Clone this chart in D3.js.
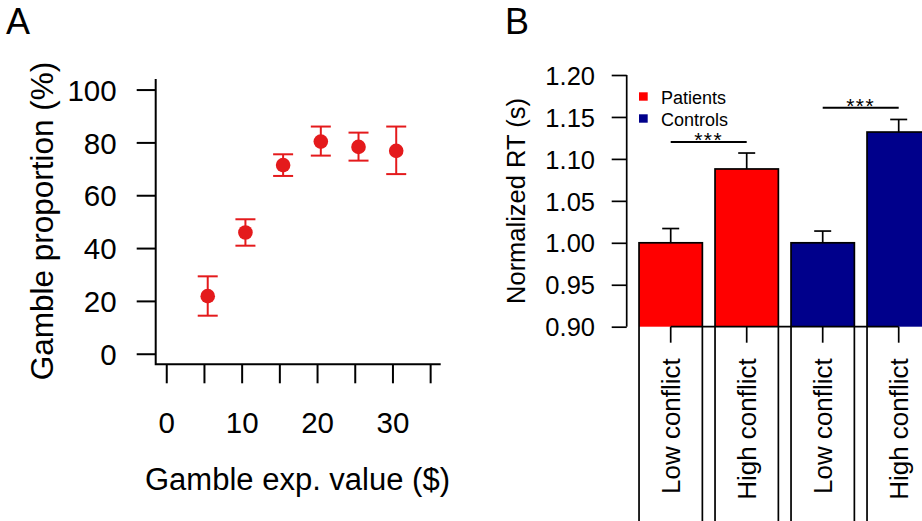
<!DOCTYPE html>
<html>
<head>
<meta charset="utf-8">
<script src="https://cdn.jsdelivr.net/npm/d3@7"></script>
<style>
  body { margin: 0; background: #fff; }
  svg { display: block; font-family: "Liberation Sans", Arial, sans-serif; }
</style>
</head>
<body>
<div id="chart"></div>
<script>
// Panel A: gamble proportion vs expected value
let evValues = [5.5, 10.5, 15.5, 20.5, 25.5, 30.5]
let gambleMean = [21.8, 45.9, 71.4, 80.3, 78.3, 76.8]
let gambleLo = [14.4, 40.9, 67.3, 75.0, 73.1, 68.0]
let gambleHi = [29.3, 50.9, 75.5, 86.0, 83.7, 86.0]
let evTicks = [0, 5, 10, 15, 20, 25, 30, 35]
let evTickLabels = ["0", "", "10", "", "20", "", "30", ""]
let propTicks = [0, 20, 40, 60, 80, 100]

// Panel B: normalized RT bars
let conditions = ["Low conflict", "High conflict", "Low conflict", "High conflict"]
let groups = ["Patients", "Patients", "Controls", "Controls"]
let rtMean = [1.000, 1.088, 1.000, 1.132]
let rtUpper = [1.017, 1.107, 1.014, 1.147]
let rtTicks = [0.90, 0.95, 1.00, 1.05, 1.10, 1.15, 1.20]
let sigPairs = [[0, 1], [2, 3]]
let sigLevel = [1.120, 1.161]
let sigLabel = ["***", "***"]
let legendGroups = ["Patients", "Controls"]

let width = 922,
  height = 521

let svg = d3.select("#chart").append("svg")
  .attr("width", width)
  .attr("height", height)

svg.append("rect").attr("width", width).attr("height", height).attr("fill", "#fff")

// ---------- Panel A ----------
let ptRed = "#e41a1c"

let xA = d3.scaleLinear().domain([-1.4, 36.4]).range([155.7, 440.7])
let yA = d3.scaleLinear().domain([-4, 104]).range([364.3, 79])

let gA = svg.append("g")

// L-shaped box
gA.append("path")
  .attr("d", `M${xA.range()[0]},${yA.range()[1]}V${yA.range()[0]}H${xA.range()[1]}`)
  .attr("fill", "none").attr("stroke", "#000").attr("stroke-width", 2)

let yAxisA = gA.append("g")
  .attr("transform", `translate(${xA.range()[0]},0)`)
  .call(d3.axisLeft(yA).tickValues(propTicks).tickSize(19).tickPadding(20))
yAxisA.select(".domain").remove()
yAxisA.selectAll(".tick line").attr("stroke-width", 2)
yAxisA.selectAll(".tick text").attr("font-size", 29.5).attr("dy", "0.36em")
  .attr("font-family", "Liberation Sans, Arial, sans-serif")

let xAxisA = gA.append("g")
  .attr("transform", `translate(0,${yA.range()[0]})`)
  .call(d3.axisBottom(xA).tickValues(evTicks).tickSize(19).tickPadding(29)
    .tickFormat((d, i) => evTickLabels[i]))
xAxisA.select(".domain").remove()
xAxisA.selectAll(".tick line").attr("stroke-width", 2)
xAxisA.selectAll(".tick text").attr("font-size", 29.5)
  .attr("font-family", "Liberation Sans, Arial, sans-serif")

// error bars
let errA = gA.selectAll(".errA").data(evValues).enter().append("g")
  .attr("stroke", ptRed).attr("stroke-width", 2)
errA.append("line")
  .attr("x1", d => xA(d)).attr("x2", d => xA(d))
  .attr("y1", (d, i) => yA(gambleLo[i])).attr("y2", (d, i) => yA(gambleHi[i]))
errA.append("line")
  .attr("x1", d => xA(d) - 10).attr("x2", d => xA(d) + 10)
  .attr("y1", (d, i) => yA(gambleHi[i])).attr("y2", (d, i) => yA(gambleHi[i]))
errA.append("line")
  .attr("x1", d => xA(d) - 10).attr("x2", d => xA(d) + 10)
  .attr("y1", (d, i) => yA(gambleLo[i])).attr("y2", (d, i) => yA(gambleLo[i]))

gA.selectAll(".ptA").data(evValues).enter().append("circle")
  .attr("cx", d => xA(d))
  .attr("cy", (d, i) => yA(gambleMean[i]))
  .attr("r", 7.3)
  .attr("fill", ptRed)

gA.append("text")
  .attr("transform", "translate(52.5,221) rotate(-90)")
  .attr("text-anchor", "middle")
  .attr("font-size", 31.5)
  .text("Gamble proportion (%)")

gA.append("text")
  .attr("x", 297.5).attr("y", 490)
  .attr("text-anchor", "middle")
  .attr("font-size", 31)
  .text("Gamble exp. value ($)")

svg.append("text")
  .attr("x", 6).attr("y", 33.5)
  .attr("font-size", 36)
  .text("A")

svg.append("text")
  .attr("x", 505).attr("y", 33.5)
  .attr("font-size", 36)
  .text("B")

// ---------- Panel B ----------
let color = d3.scaleOrdinal().domain(legendGroups).range(["#ff0000", "#00008b"])

let xB = d3.scaleBand().domain(d3.range(conditions.length))
  .range([632.7, 936.7]).paddingInner(1 / 6).paddingOuter(1 / 12)
let yB = d3.scaleLinear().domain([0.9, 1.2]).range([326.7, 75])

let gB = svg.append("g")

// bar fills (only inside plot region)
gB.selectAll(".barFill").data(rtMean).enter().append("rect")
  .attr("x", (d, i) => xB(i))
  .attr("y", d => yB(d))
  .attr("width", xB.bandwidth())
  .attr("height", d => yB(0.9) - yB(d))
  .attr("fill", (d, i) => color(groups[i]))

// bar outlines continue below the axis
gB.selectAll(".barLine").data(rtMean).enter().append("rect")
  .attr("x", (d, i) => xB(i))
  .attr("y", d => yB(d))
  .attr("width", xB.bandwidth())
  .attr("height", d => height + 40 - yB(d))
  .attr("fill", "none")
  .attr("stroke", "#000").attr("stroke-width", 1.7)

// error bars (upper only)
let errB = gB.selectAll(".errB").data(rtMean).enter().append("g")
  .attr("stroke", "#000").attr("stroke-width", 1.7)
errB.append("line")
  .attr("x1", (d, i) => xB(i) + xB.bandwidth() / 2).attr("x2", (d, i) => xB(i) + xB.bandwidth() / 2)
  .attr("y1", d => yB(d)).attr("y2", (d, i) => yB(rtUpper[i]))
errB.append("line")
  .attr("x1", (d, i) => xB(i) + xB.bandwidth() / 2 - 8.5).attr("x2", (d, i) => xB(i) + xB.bandwidth() / 2 + 8.5)
  .attr("y1", (d, i) => yB(rtUpper[i])).attr("y2", (d, i) => yB(rtUpper[i]))

let yAxisB = gB.append("g")
  .attr("transform", "translate(626.7,0)")
  .call(d3.axisLeft(yB).tickValues(rtTicks).tickSize(15).tickPadding(16.7)
    .tickFormat(d3.format(".2f")))
yAxisB.select(".domain").remove()
yAxisB.append("line")
  .attr("y1", yB(rtTicks[0])).attr("y2", yB(rtTicks[rtTicks.length - 1]))
  .attr("stroke", "#000").attr("stroke-width", 1.7)
yAxisB.selectAll(".tick line").attr("stroke-width", 1.7)
yAxisB.selectAll(".tick text").attr("font-size", 25.5).attr("dy", "0.36em")
  .attr("font-family", "Liberation Sans, Arial, sans-serif")

let xAxisB = gB.append("g")
  .attr("transform", `translate(0,${yB(0.9)})`)
  .call(d3.axisBottom(xB).tickSize(16).tickFormat(i => conditions[i]))
xAxisB.select(".domain").remove()
xAxisB.append("line")
  .attr("x1", xB(0) + xB.bandwidth() / 2)
  .attr("x2", xB(conditions.length - 1) + xB.bandwidth() / 2)
  .attr("stroke", "#000").attr("stroke-width", 1.7)
xAxisB.selectAll(".tick line").attr("stroke-width", 1.7)
xAxisB.selectAll(".tick text")
  .attr("font-size", 26)
  .attr("font-family", "Liberation Sans, Arial, sans-serif")
  .attr("transform", "rotate(-90)")
  .attr("text-anchor", "end")
  .attr("x", -31.5).attr("y", 0).attr("dy", "0.35em")

gB.append("text")
  .attr("transform", "translate(524.8,201) rotate(-90)")
  .attr("text-anchor", "middle")
  .attr("font-size", 25.5)
  .text("Normalized RT (s)")

// significance brackets
sigPairs.forEach(function (p, k) {
  let x1 = xB(p[0]) + xB.bandwidth() / 2,
    x2 = xB(p[1]) + xB.bandwidth() / 2,
    y = yB(sigLevel[k])
  gB.append("line")
    .attr("x1", x1).attr("x2", x2).attr("y1", y).attr("y2", y)
    .attr("stroke", "#000").attr("stroke-width", 2)
  gB.append("text")
    .attr("x", (x1 + x2) / 2).attr("y", y + 5)
    .attr("text-anchor", "middle")
    .attr("font-size", 21)
    .attr("letter-spacing", 1.5)
    .text(sigLabel[k])
})

// legend
let leg = gB.selectAll(".leg").data(legendGroups).enter().append("g")
  .attr("transform", (d, i) => `translate(639,${92.3 + i * 22})`)
leg.append("rect")
  .attr("width", 8.7).attr("height", 8.4)
  .attr("fill", d => color(d))
leg.append("text")
  .attr("x", 22).attr("y", 11.7)
  .attr("font-size", 18)
  .text(d => d)
</script>
</body>
</html>
